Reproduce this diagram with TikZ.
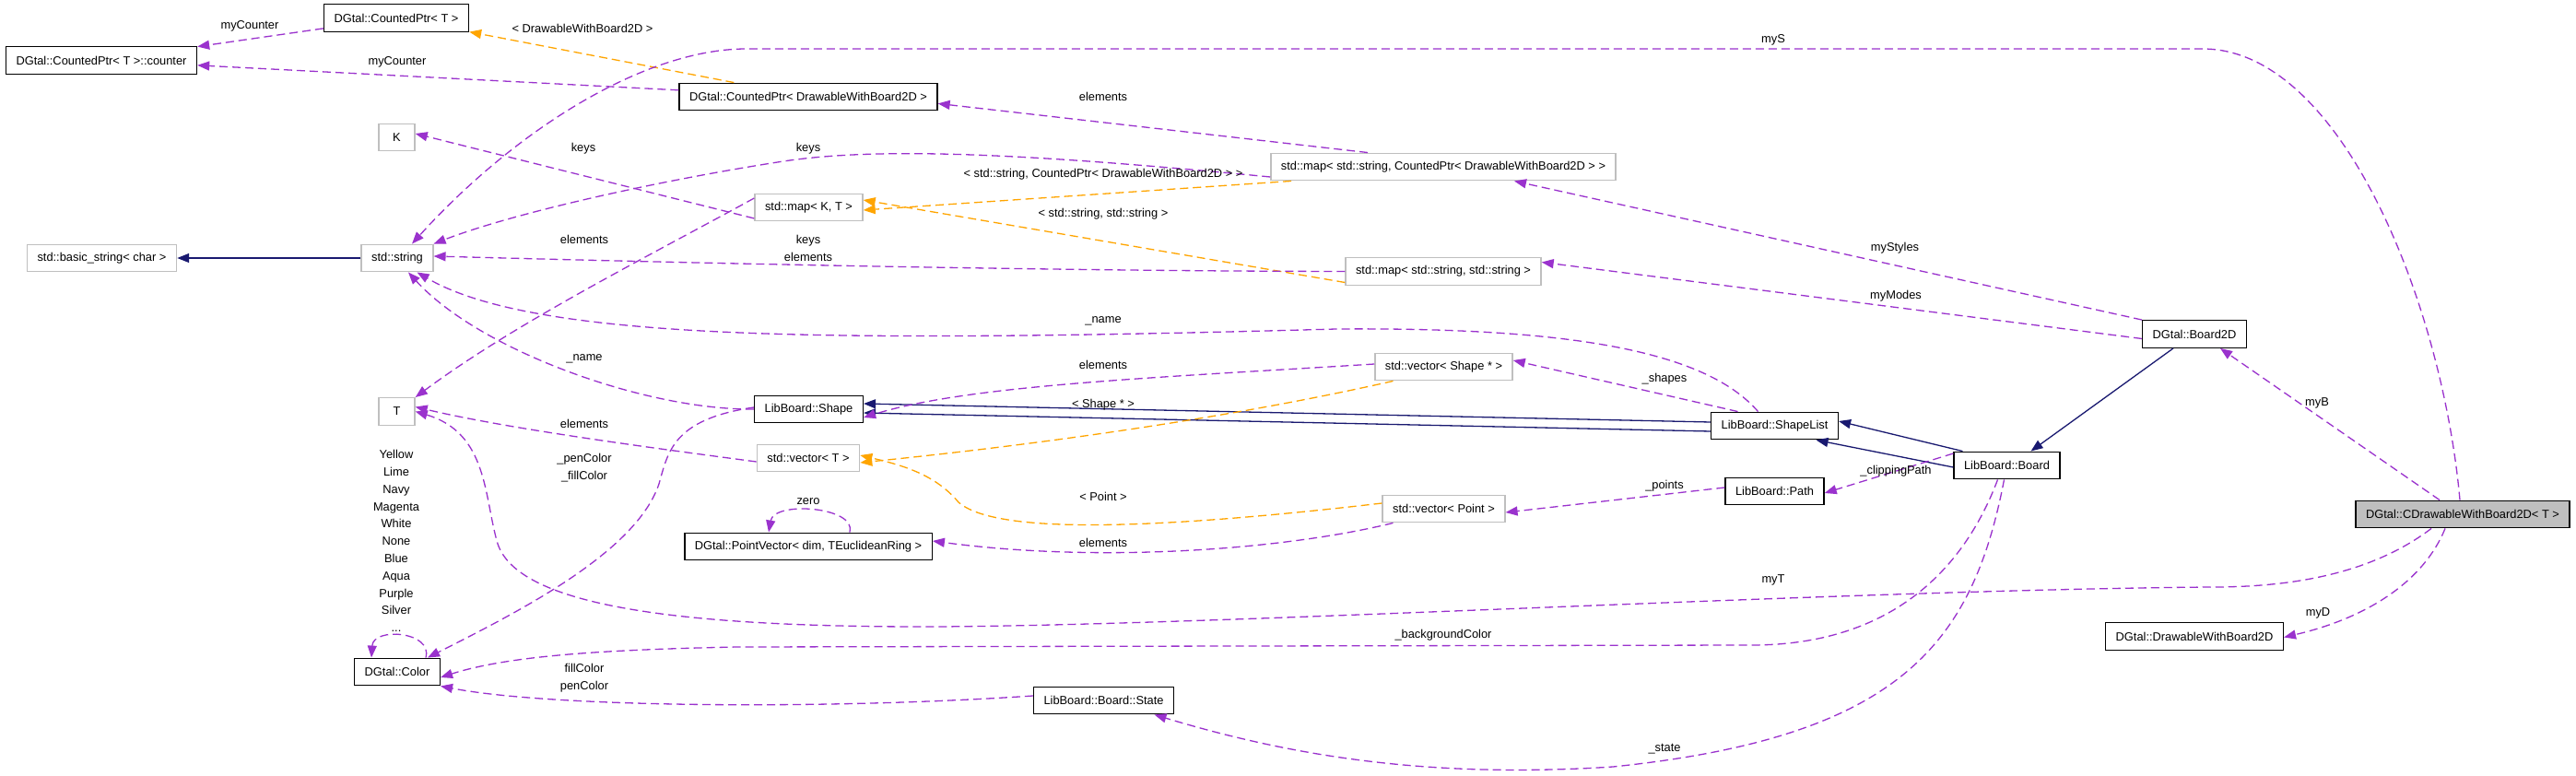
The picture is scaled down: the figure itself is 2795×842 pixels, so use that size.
\documentclass[tikz,border=0pt]{standalone}
\usepackage{fontspec}
\setmainfont{Liberation Sans}
\usetikzlibrary{arrows.meta}
\definecolor{membercol}{HTML}{9A32CD}
\definecolor{tmplcol}{HTML}{FFA500}
\definecolor{inhcol}{HTML}{191970}
\definecolor{boxgray}{HTML}{BFBFBF}
\tikzset{
  classbox/.style={draw=black, fill=white, line width=1.4pt, inner xsep=11pt, minimum height=29.5pt, font=\fontsize{12.85}{15}\selectfont},
  extbox/.style={classbox, draw=boxgray},
  edgelabel/.style={inner sep=0pt, align=center, font=\fontsize{12.85}{18.8}\selectfont},
  memberedge/.style={draw=membercol, line width=1.3pt, dash pattern=on 9pt off 5pt, -{Triangle[length=13pt,width=10pt]}},
  tmpledge/.style={memberedge, draw=tmplcol},
  inhedge/.style={draw=inhcol, line width=1.3pt, -{Triangle[length=13pt,width=10pt]}},
}
\begin{document}
\begin{tikzpicture}[x=1pt,y=1pt,yscale=-1]
\path[fill=white, use as bounding box] (0,0) rectangle (2795,842);
% classes
\node[classbox] (counter) at (110,65.5) {DGtal::CountedPtr< T >::counter};
\node[classbox] (cptrT) at (430,19.5) {DGtal::CountedPtr< T >};
\node[extbox, minimum width=39pt] (K) at (430.5,149) {K};
\node[extbox] (basicstr) at (110.5,280) {std::basic\_string< char >};
\node[extbox] (string) at (431,280) {std::string};
\node[classbox] (cptrD) at (877,105) {DGtal::CountedPtr< DrawableWithBoard2D >};
\node[extbox] (mapSC) at (1566,181) {std::map< std::string, CountedPtr< DrawableWithBoard2D > >};
\node[extbox] (mapKT) at (877.5,225) {std::map< K, T >};
\node[extbox] (mapSS) at (1566,294.5) {std::map< std::string, std::string >};
\node[classbox] (board2d) at (2381,362.5) {DGtal::Board2D};
\node[classbox] (shapelist) at (1925.5,462) {LibBoard::ShapeList};
\node[classbox] (board) at (2177.5,505) {LibBoard::Board};
\node[classbox] (lbpath) at (1925.5,533) {LibBoard::Path};
\node[classbox, fill=boxgray] (cdraw) at (2672,558) {DGtal::CDrawableWithBoard2D< T >};
\node[classbox] (drawable) at (2381,690.5) {DGtal::DrawableWithBoard2D};
\node[extbox] (vecShape) at (1566.5,398) {std::vector< Shape * >};
\node[classbox] (shape) at (877.5,444) {LibBoard::Shape};
\node[extbox] (vecT) at (877,497) {std::vector< T >};
\node[extbox] (vecPoint) at (1566.5,552) {std::vector< Point >};
\node[classbox] (pointvec) at (877,593) {DGtal::PointVector< dim, TEuclideanRing >};
\node[classbox] (state) at (1197.5,760) {LibBoard::Board::State};
\node[extbox, minimum width=39pt] (T) at (430.5,446.5) {T};
\node[classbox] (dcolor) at (431,729) {DGtal::Color};
% inheritance
\draw[inhedge] (string) -- (basicstr);
\draw[inhedge] ([yshift=6pt]shapelist.west) -- ([yshift=4pt]shape.east);
\draw[inhedge] ([yshift=-4pt]shapelist.west) -- ([yshift=-6pt]shape.east);
\draw[inhedge] ([xshift=-48pt]board.north) -- ([yshift=-5pt]shapelist.east);
\draw[inhedge] ([yshift=2pt]board.west) -- ([xshift=45pt]shapelist.south);
\draw[inhedge] ([xshift=-23pt]board2d.south) -- ([xshift=26pt]board.north);
% template instances
\draw[tmpledge] (cptrD) -- (cptrT);
\draw[tmpledge] ([xshift=-165pt]mapSC.south) -- ([yshift=3pt]mapKT.east);
\draw[tmpledge] ([yshift=12pt]mapSS.west) -- ([yshift=-8pt]mapKT.east);
\draw[tmpledge] ([xshift=-55pt]vecShape.south) .. controls (1350,450) and (1150,480) .. ([yshift=5pt]vecT.east);
\draw[tmpledge] ([yshift=-6pt]vecPoint.west) .. controls (1250,575) and (1080,580) .. (1040,545) .. controls (1015,515) and (980,505) .. ([yshift=-3pt]vecT.east);
% members
\draw[memberedge] (cptrT) -- (counter);
\draw[memberedge] (cptrD) -- (counter);
\draw[memberedge] ([xshift=-82pt]mapSC.north) -- (cptrD.-3);
\draw[memberedge] ([yshift=11pt]mapSC.west) .. controls (1100,165) and (950,160) .. (850,175) .. controls (720,195) and (560,230) .. (string.north east);
\draw[memberedge] ([yshift=12pt]mapKT.west) -- ([yshift=-4pt]K.east);
\draw[memberedge] ([yshift=-10pt]mapKT.west) .. controls (700,280) and (560,350) .. (T.north east);
\draw[memberedge] ([xshift=-3pt]cdraw.north) .. controls (2650,330) and (2540,53) .. (2390,53) -- (810,53) .. controls (700,53) and (560,140) .. ([xshift=16pt]string.north);
\draw[memberedge] (board2d.north west) -- ([xshift=77pt]mapSC.south);
\draw[memberedge] ([yshift=5pt]board2d.west) -- ([yshift=-10pt]mapSS.east);
\draw[memberedge] (mapSS.west) .. controls (1100,294) and (700,284) .. ([yshift=-2pt]string.east);
\draw[memberedge] ([xshift=-18pt]shapelist.north) .. controls (1850,380) and (1700,355) .. (1450,357) .. controls (900,372) and (580,370) .. ([xshift=-18pt]string.south east);
\draw[memberedge] (shape.west) .. controls (700,445) and (520,380) .. ([xshift=12pt]string.south);
\draw[memberedge] ([yshift=-2pt]shape.west) .. controls (730,455) and (725,490) .. (715,525) .. controls (690,600) and (560,665) .. ([xshift=33pt]dcolor.north);
\draw[memberedge] ([yshift=4pt]vecT.west) .. controls (700,485) and (550,465) .. ([yshift=-5pt]T.east);
\draw[memberedge] ([xshift=-34pt]cdraw.south) .. controls (2570,625) and (2480,637) .. (2400,637) .. controls (2000,640) and (1300,680) .. (1000,680) .. controls (700,680) and (560,650) .. (540,590) .. controls (525,540) and (530,470) .. (T.east);
\draw[memberedge] ([xshift=-10pt]board.south) .. controls (2130,620) and (2050,700) .. (1900,700) -- (800,702) .. controls (650,705) and (550,712) .. ([yshift=6pt]dcolor.east);
\draw[memberedge] ([yshift=-5pt]state.west) .. controls (900,770) and (600,768) .. (dcolor.south east);
\draw[memberedge] ([xshift=-3pt]board.south) .. controls (2140,700) and (2060,800) .. (1750,832) .. controls (1550,845) and (1400,820) .. ([xshift=55pt]state.south);
\draw[memberedge] ([xshift=-40pt]shapelist.north) -- ([yshift=-7pt]vecShape.east);
\draw[memberedge] ([yshift=-3pt]vecShape.west) .. controls (1250,410) and (1050,418) .. ([yshift=9pt]shape.east);
\draw[memberedge] ([yshift=-4pt]lbpath.west) -- ([yshift=4pt]vecPoint.east);
\draw[memberedge] ([yshift=-13pt]board.west) -- ([yshift=2pt]lbpath.east);
\draw[memberedge] ([xshift=-55pt]vecPoint.south) .. controls (1400,595) and (1200,612) .. ([yshift=-6pt]pointvec.east);
\draw[memberedge] ([xshift=45pt]pointvec.north) .. controls (930,550) and (840,543) .. ([xshift=-43pt]pointvec.north);
\draw[memberedge] ([xshift=31pt]dcolor.north) .. controls (470,685) and (405,680) .. ([xshift=-28pt]dcolor.north);
\draw[memberedge] ([xshift=-25pt]cdraw.north) -- ([xshift=28pt]board2d.south);
\draw[memberedge] ([xshift=-19pt]cdraw.south) .. controls (2630,630) and (2570,670) .. ([yshift=1pt]drawable.east);
% labels
\node[edgelabel] (lCntA) at (271,28) {myCounter};
\node[edgelabel] (lCntB) at (431,67) {myCounter};
\node[edgelabel] (lTplD) at (632,31) {< DrawableWithBoard2D >};
\node[edgelabel] (lElemSC) at (1197,105) {elements};
\node[edgelabel] (lKeysSC) at (877,161) {keys};
\node[edgelabel] (lKeysKT) at (633,161) {keys};
\node[edgelabel] (lTplSC) at (1197,189) {< std::string, CountedPtr< DrawableWithBoard2D > >};
\node[edgelabel] (lTplSS) at (1197,232) {< std::string, std::string >};
\node[edgelabel] (lElemKT) at (634,260) {elements};
\node[edgelabel] (lKeysSS) at (877,269.5) {keys\\elements};
\node[edgelabel] (lMyS) at (1924,43) {myS};
\node[edgelabel] (lStyles) at (2056,269) {myStyles};
\node[edgelabel] (lModes) at (2057,321) {myModes};
\node[edgelabel] (lNameSL) at (1197,348) {\_name};
\node[edgelabel] (lNameS) at (634,389) {\_name};
\node[edgelabel] (lElemVS) at (1197,396) {elements};
\node[edgelabel] (lShapes) at (1806,411) {\_shapes};
\node[edgelabel] (lTplShape) at (1197,439) {< Shape * >};
\node[edgelabel] (lElemVT) at (634,460) {elements};
\node[edgelabel] (lPenFill) at (634,508) {\_penColor\\\_fillColor};
\node[edgelabel] (lPoints) at (1806,527) {\_points};
\node[edgelabel] (lClip) at (2057,511) {\_clippingPath};
\node[edgelabel] (lTplPoint) at (1197,539) {< Point >};
\node[edgelabel] (lZero) at (877,544) {zero};
\node[edgelabel] (lElemVP) at (1197,589) {elements};
\node[edgelabel] (lMyT) at (1924,629) {myT};
\node[edgelabel] (lMyB) at (2514,437) {myB};
\node[edgelabel] (lMyD) at (2515,665) {myD};
\node[edgelabel] (lBg) at (1566,689) {\_backgroundColor};
\node[edgelabel] (lFillPen) at (634,736) {fillColor\\penColor};
\node[edgelabel] (lState) at (1806,813) {\_state};
\node[edgelabel] (lColors) at (430,587) {Yellow\\Lime\\Navy\\Magenta\\White\\None\\Blue\\Aqua\\Purple\\Silver\\...};
\end{tikzpicture}
\end{document}
